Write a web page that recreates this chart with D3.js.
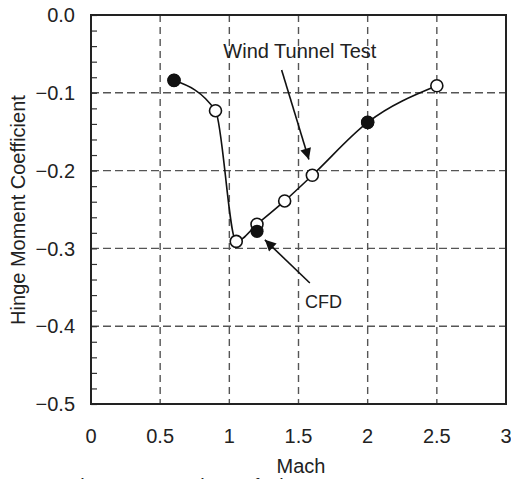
<!DOCTYPE html>
<html>
<head>
<meta charset="utf-8">
<script src="https://cdn.jsdelivr.net/npm/d3@7"></script>
<style>
  body { margin: 0; background: #fff; overflow: hidden; }
  text { font-family: "Liberation Sans", Arial, sans-serif; fill: #222; }
</style>
</head>
<body>
<svg id="chart" width="511" height="479"></svg>
<script>
// wind tunnel test (open circles + curve)
var windMach = [0.6, 0.9, 1.05, 1.2, 1.4, 1.6, 2.0, 2.5];
var windCoef = [-0.084, -0.123, -0.291, -0.269, -0.239, -0.206, -0.138, -0.091];
// CFD (filled circles)
var cfdMach = [0.6, 1.2, 2.0];
var cfdCoef = [-0.084, -0.278, -0.138];

var xTicks = [0, 0.5, 1, 1.5, 2, 2.5, 3];
var yTicks = [0, -0.1, -0.2, -0.3, -0.4, -0.5];

var svg = d3.select("#chart"),
  WIDTH = 511,
  HEIGHT = 479,
  MARGINS = { top: 15, right: 5, bottom: 75, left: 91 };

var xScale = d3.scaleLinear().domain([0, 3]).range([MARGINS.left, WIDTH - MARGINS.right]);
var yScale = d3.scaleLinear().domain([0, -0.5]).range([MARGINS.top, HEIGHT - MARGINS.bottom]);

var x0 = xScale(0), x1 = xScale(3), y0 = yScale(0), y1 = yScale(-0.5);

// dashed grid
svg.append("g").selectAll("line").data(xTicks.slice(1, -1)).enter().append("line")
  .attr("x1", d => xScale(d)).attr("x2", d => xScale(d))
  .attr("y1", y0).attr("y2", y1)
  .attr("stroke", "#555").attr("stroke-width", 1.4).attr("stroke-dasharray", "7,5");
svg.append("g").selectAll("line").data(yTicks.slice(1, -1)).enter().append("line")
  .attr("x1", x0).attr("x2", x1)
  .attr("y1", d => yScale(d)).attr("y2", d => yScale(d))
  .attr("stroke", "#555").attr("stroke-width", 1.4).attr("stroke-dasharray", "8,4");

// minor ticks on the left axis, inward
var yAxis = d3.axisRight(yScale).ticks(25).tickSize(6).tickFormat("");
var gy = svg.append("g").attr("transform", "translate(" + x0 + ",0)").call(yAxis);
gy.select(".domain").remove();
gy.selectAll("line").attr("stroke", "#333").attr("stroke-width", 1.2);

// tick labels
svg.append("g").selectAll("text").data(yTicks).enter().append("text")
  .attr("x", 75).attr("y", d => yScale(d)).attr("dy", "0.36em")
  .attr("text-anchor", "end").style("font-size", "20px")
  .text(d => d3.format(".1f")(d));
svg.append("g").selectAll("text").data(xTicks).enter().append("text")
  .attr("x", d => xScale(d)).attr("y", y1 + 39)
  .attr("text-anchor", "middle").style("font-size", "20px")
  .text(d => d);

// frame
svg.append("rect").attr("x", x0).attr("y", y0)
  .attr("width", x1 - x0).attr("height", y1 - y0)
  .attr("fill", "none").attr("stroke", "#222").attr("stroke-width", 2);

// curve
var line = d3.line()
  .x(d => xScale(d[0])).y(d => yScale(d[1]))
  .curve(d3.curveMonotoneX);
svg.append("path").datum(d3.zip(windMach, windCoef))
  .attr("d", line).attr("fill", "none").attr("stroke", "#111").attr("stroke-width", 1.6);

svg.append("g").selectAll("circle").data(d3.zip(windMach, windCoef)).enter().append("circle")
  .attr("cx", d => xScale(d[0])).attr("cy", d => yScale(d[1])).attr("r", 6)
  .attr("fill", "#fff").attr("stroke", "#111").attr("stroke-width", 1.6);
svg.append("g").selectAll("circle").data(d3.zip(cfdMach, cfdCoef)).enter().append("circle")
  .attr("cx", d => xScale(d[0])).attr("cy", d => yScale(d[1])).attr("r", 6.6)
  .attr("fill", "#111");

// annotations
svg.append("defs").append("marker")
  .attr("id", "head").attr("viewBox", "0 0 10 10").attr("refX", 10).attr("refY", 5)
  .attr("markerWidth", 14).attr("markerHeight", 11).attr("markerUnits", "userSpaceOnUse")
  .attr("orient", "auto")
  .append("path").attr("d", "M0,0L10,5L0,10Z").attr("fill", "#111");

function arrow(a, b) {
  svg.append("line")
    .attr("x1", xScale(a[0])).attr("y1", yScale(a[1]))
    .attr("x2", xScale(b[0])).attr("y2", yScale(b[1]))
    .attr("stroke", "#111").attr("stroke-width", 1.6)
    .attr("marker-end", "url(#head)");
}
arrow([1.378, -0.0707], [1.575, -0.1857]);
arrow([1.582, -0.3445], [1.257, -0.289]);

svg.append("text").attr("x", xScale(1.51)).attr("y", yScale(-0.0557))
  .attr("text-anchor", "middle").style("font-size", "20px").text("Wind Tunnel Test");
svg.append("text").attr("x", xScale(1.68)).attr("y", yScale(-0.3766))
  .attr("text-anchor", "middle").style("font-size", "18px").text("CFD");

// axis titles
svg.append("text").attr("x", 301).attr("y", 473)
  .attr("text-anchor", "middle").style("font-size", "20px").text("Mach");
svg.append("text").attr("transform", "translate(25,210) rotate(-90)")
  .attr("text-anchor", "middle").style("font-size", "20px").text("Hinge Moment Coefficient");

// caption, mostly below the bottom edge
svg.append("text").attr("x", 68).attr("y", 493)
  .style("font-size", "20px").text("Fig.16    Comparison of Hinge Moment");
</script>
</body>
</html>
